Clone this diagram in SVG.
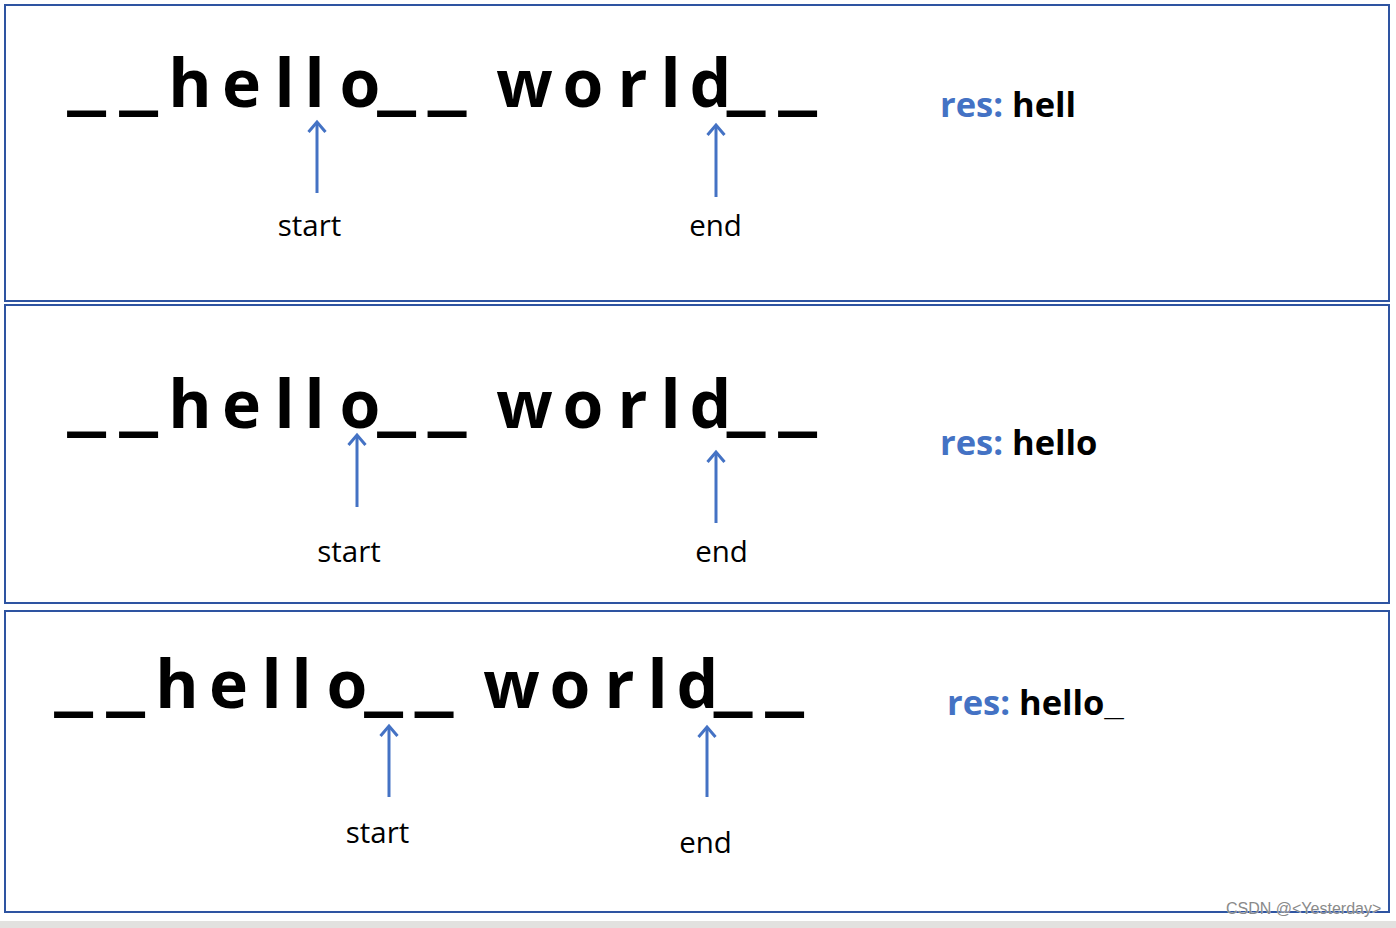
<svg xmlns="http://www.w3.org/2000/svg" width="1396" height="928" viewBox="0 0 1396 928">
<style>
.frame{fill:#fff;stroke:#2E54A1;stroke-width:2}
.big{font-family:"Open Sans","Noto Sans",sans-serif;font-weight:700;font-size:66px;fill:#000;text-anchor:middle}
.u{font-size:94px}
.lbl{font-family:"Open Sans","Noto Sans",sans-serif;font-size:29.5px;fill:#000;text-anchor:middle}
.res{font-family:"Open Sans","Noto Sans",sans-serif;font-weight:700;font-size:34.5px;fill:#000}
.ru{font-family:"Liberation Sans",Arial,sans-serif}
.blue{fill:#4472C4}
.arrow{stroke:#4472C4;stroke-width:3;fill:none;marker-end:url(#ah)}
.wm{font-family:"Liberation Sans",Arial,sans-serif;font-size:16px;fill:#8a8a8a;stroke:#fff;stroke-width:0.4;paint-order:stroke}
</style>
<defs>
<marker id="ah" markerUnits="userSpaceOnUse" markerWidth="30" markerHeight="30" viewBox="-15 -15 30 30" refX="0" refY="0" orient="auto" overflow="visible">
<path d="M-10,-8.5 L0,0 L-10,8.5" fill="none" stroke="#4472C4" stroke-width="3"/>
</marker>
</defs>
<rect x="0" y="0" width="1396" height="928" fill="#fff"/>
<rect x="0" y="921" width="1396" height="7" fill="#e2e1df"/>

<g id="panel1">
<rect class="frame" x="5" y="5" width="1384" height="296"/>
<text class="big" y="107"><tspan class="u" x="86.5" y="101.5">_</tspan><tspan x="112"> </tspan><tspan class="u" x="138.5" y="101.5">_</tspan><tspan x="164 190 216 241.5 268 284.5 300 314.5 331 360" y="107"> h e l l o</tspan><tspan class="u" x="396.5" y="101.5">_</tspan><tspan x="422"> </tspan><tspan class="u" x="447" y="101.5">_</tspan><tspan x="482 524.5 558 583 610 632.5 654 670.5 684 710.5" y="107"> w o r l d</tspan><tspan class="u" x="746" y="101.5">_</tspan><tspan x="772"> </tspan><tspan class="u" x="797.5" y="101.5">_</tspan></text>
<text class="lbl" x="309.5" y="236">start</text>
<text class="lbl" x="715.5" y="236">end</text>
<text class="res" x="940" y="117"><tspan class="blue">res:</tspan> hell</text>
</g>

<g id="panel2">
<rect class="frame" x="5" y="305" width="1384" height="298"/>
<text class="big" y="428"><tspan class="u" x="86.5" y="422.5">_</tspan><tspan x="112"> </tspan><tspan class="u" x="138.5" y="422.5">_</tspan><tspan x="164 190 216 241.5 268 284.5 300 314.5 331 360" y="428"> h e l l o</tspan><tspan class="u" x="396.5" y="422.5">_</tspan><tspan x="422"> </tspan><tspan class="u" x="447" y="422.5">_</tspan><tspan x="482 524.5 558 583 610 632.5 654 670.5 684 710.5" y="428"> w o r l d</tspan><tspan class="u" x="746" y="422.5">_</tspan><tspan x="772"> </tspan><tspan class="u" x="797.5" y="422.5">_</tspan></text>
<text class="lbl" x="349" y="562">start</text>
<text class="lbl" x="721.5" y="562">end</text>
<text class="res" x="940" y="455"><tspan class="blue">res:</tspan> hello</text>
</g>

<g id="panel3">
<rect class="frame" x="5" y="611" width="1384" height="301"/>
<text class="big" y="708"><tspan class="u" x="73.5" y="702.5">_</tspan><tspan x="99"> </tspan><tspan class="u" x="125.5" y="702.5">_</tspan><tspan x="151 177 203 228.5 255 271.5 287 301.5 318 347" y="708"> h e l l o</tspan><tspan class="u" x="383.5" y="702.5">_</tspan><tspan x="409"> </tspan><tspan class="u" x="434" y="702.5">_</tspan><tspan x="469 511.5 545 570 597 619.5 641 657.5 671 697.5" y="708"> w o r l d</tspan><tspan class="u" x="733" y="702.5">_</tspan><tspan x="759"> </tspan><tspan class="u" x="784.5" y="702.5">_</tspan></text>
<text class="lbl" x="377.5" y="843">start</text>
<text class="lbl" x="705.5" y="853">end</text>
<text class="res" x="947" y="715"><tspan class="blue">res:</tspan> hello<tspan class="ru">_</tspan></text>
</g>

<g id="connectors">
<line class="arrow" x1="317" y1="193" x2="317" y2="122"/>
<line class="arrow" x1="716" y1="197" x2="716" y2="125"/>
<line class="arrow" x1="357" y1="507" x2="357" y2="435"/>
<line class="arrow" x1="716" y1="523" x2="716" y2="452"/>
<line class="arrow" x1="389" y1="797" x2="389" y2="726"/>
<line class="arrow" x1="707" y1="797" x2="707" y2="727"/>
</g>

<text class="wm" x="1226" y="914">CSDN @&lt;Yesterday&gt;</text>
</svg>
